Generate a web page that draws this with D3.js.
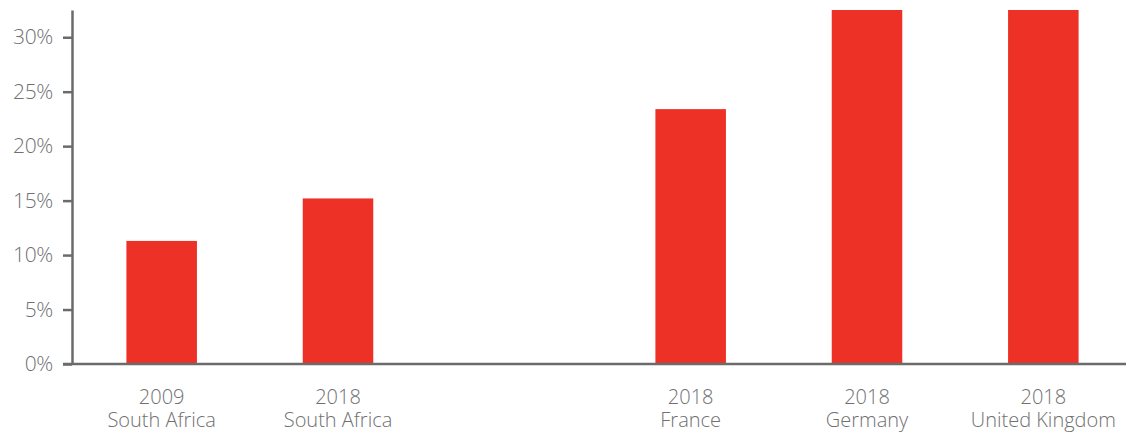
<!DOCTYPE html>
<html><head><meta charset="utf-8">
<script src="https://cdn.jsdelivr.net/npm/d3@7"></script>
<style>html,body{margin:0;padding:0;background:#fff;overflow:hidden}</style>
</head><body>
<svg id="c" width="1126" height="433"></svg>
<script>
const years = ["2009", "2018", "", "2018", "2018", "2018"];
const countries = ["South Africa", "South Africa", "", "France", "Germany", "United Kingdom"];
const values = [11.3, 15.2, null, 23.4, 32.5, 32.5];
const yTicks = [0, 5, 10, 15, 20, 25, 30];

const svg = d3.select("#c");
const font = "'Open Sans', sans-serif";
const grey = "#6b6b6b";
const textGrey = "#707070";
const x0 = 72, yTop = 10, yBase = 364;

const keys = years.map((d, i) => i);
const x = d3.scaleBand().domain(keys).range([73.5, 1131.5]).paddingInner(0.6).paddingOuter(0.3);
const y = d3.scaleLinear().domain([0, 32.5]).range([yBase, yTop]).clamp(true);

// bars
svg.append("g").selectAll("rect")
  .data(keys.filter(i => values[i] != null))
  .join("rect")
  .attr("x", i => x(i))
  .attr("width", x.bandwidth())
  .attr("y", i => y(values[i]))
  .attr("height", i => yBase - y(values[i]))
  .attr("fill", "#EE3127");

// y axis
const ya = svg.append("g").attr("transform", `translate(${x0},0)`)
  .call(d3.axisLeft(y).tickValues(yTicks).tickFormat(d => d + "%").tickSize(9).tickPadding(10).tickSizeOuter(0));
ya.select(".domain").attr("stroke", grey).attr("stroke-width", 2.5);
ya.selectAll(".tick line").attr("stroke", grey).attr("stroke-width", 2.5);
ya.selectAll(".tick text").attr("fill", textGrey).style("font-family", font)
  .style("font-size", "21px").style("font-weight", 300).style("letter-spacing", "-0.3px");

// x axis baseline
svg.append("line").attr("x1", x0 - 9).attr("x2", 1126).attr("y1", yBase).attr("y2", yBase)
  .attr("stroke", grey).attr("stroke-width", 2.5);

// x labels (two separate rows)
const labKeys = keys.filter(i => years[i] !== "");
const rows = [{arr: years, y: 404}, {arr: countries, y: 427}];
rows.forEach(r => {
  svg.append("g").selectAll("text")
    .data(labKeys)
    .join("text")
    .attr("x", i => x(i) + x.bandwidth() / 2)
    .attr("y", r.y)
    .attr("text-anchor", "middle")
    .attr("fill", textGrey)
    .style("font-family", font).style("font-size", "20px").style("font-weight", 300)
    .text(i => r.arr[i]);
});
</script>
</body></html>
